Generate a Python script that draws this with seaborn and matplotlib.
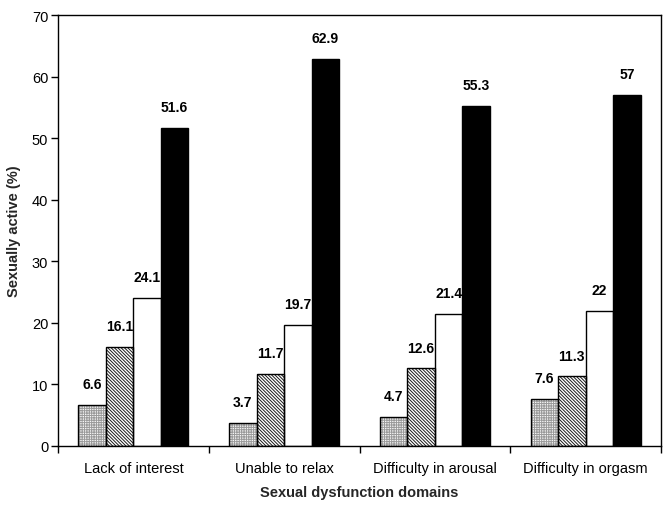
import matplotlib
matplotlib.use("Agg")
import matplotlib.pyplot as plt
import seaborn as sns
import pandas as pd
from matplotlib.patches import Rectangle

categories = ["Lack of interest", "Unable to relax", "Difficulty in arousal", "Difficulty in orgasm"]
series_names = ["Series 1", "Series 2", "Series 3", "Series 4"]
series1 = [6.6, 3.7, 4.7, 7.6]
series2 = [16.1, 11.7, 12.6, 11.3]
series3 = [24.1, 19.7, 21.4, 22]
series4 = [51.6, 62.9, 55.3, 57]
yticks = [0, 10, 20, 30, 40, 50, 60, 70]

sns.set_theme(style="ticks")
plt.rcParams['font.family'] = ['Liberation Sans', 'DejaVu Sans']
plt.rcParams['hatch.linewidth'] = 0.7

rows = []
for name, vals in zip(series_names, [series1, series2, series3, series4]):
    for c, v in zip(categories, vals):
        rows.append({"domain": c, "series": name, "value": v})
df = pd.DataFrame(rows)

fig = plt.figure(figsize=(6.7, 5.1), dpi=100)
ax = fig.add_axes([58/670, 1-447/510, (661-58)/670, (447-16)/510])

sns.barplot(data=df, x="domain", y="value", hue="series", hue_order=series_names,
            order=categories, palette=["#f0f0f0", "white", "white", "black"],
            width=0.73, edgecolor="black", linewidth=1.0, saturation=1,
            legend=False, errorbar=None, ax=ax)

styles = [
    dict(face="#f6f6f6", hatchcol="#9a9a9a", hatch="+++++++"),
    dict(face="white", hatchcol="#1a1a1a", hatch="\\\\\\\\\\\\\\\\\\\\"),
    dict(face="white", hatchcol="black", hatch=None),
    dict(face="black", hatchcol="black", hatch=None),
]
for cont, st in zip(ax.containers, styles):
    for p in cont.patches:
        p.set_facecolor(st["face"])
        if st["hatch"]:
            p.set_hatch(st["hatch"])
            p.set_edgecolor(st["hatchcol"])
            p.set_linewidth(0)
            ax.add_patch(Rectangle(p.get_xy(), p.get_width(), p.get_height(),
                                   fill=False, edgecolor="black", linewidth=1.0, zorder=p.get_zorder() + 0.1))
    labels = [f"{v:g}" for v in cont.datavalues]
    ax.bar_label(cont, labels=labels, padding=10, fontsize=10, fontweight="bold", color="black")

ax.set_xlim(-0.5, 3.5)
ax.set_ylim(0, 70)
ax.set_yticks(yticks)
ax.set_yticklabels([str(t) for t in yticks], fontsize=10.5, color="black")
ax.set_xticks([-0.5, 0.5, 1.5, 2.5, 3.5])
ax.set_xticklabels([])
ax.set_xticks(range(len(categories)), minor=True)
ax.set_xticklabels(categories, minor=True, fontsize=10.5, color="black")
ax.tick_params(axis="x", which="minor", length=0, pad=11)
ax.tick_params(axis="x", which="major", length=5, width=1, color="black")
ax.tick_params(axis="y", length=5, width=1, color="black", pad=2)
for s in ax.spines.values():
    s.set_visible(True)
    s.set_color("black")
    s.set_linewidth(1.0)

ax.set_xlabel("Sexual dysfunction domains", fontsize=10.5, fontweight="bold", labelpad=7)
ax.set_ylabel("Sexually active (%)", fontsize=10.5, fontweight="bold", labelpad=8)

fig.savefig("out.png", dpi=100)
